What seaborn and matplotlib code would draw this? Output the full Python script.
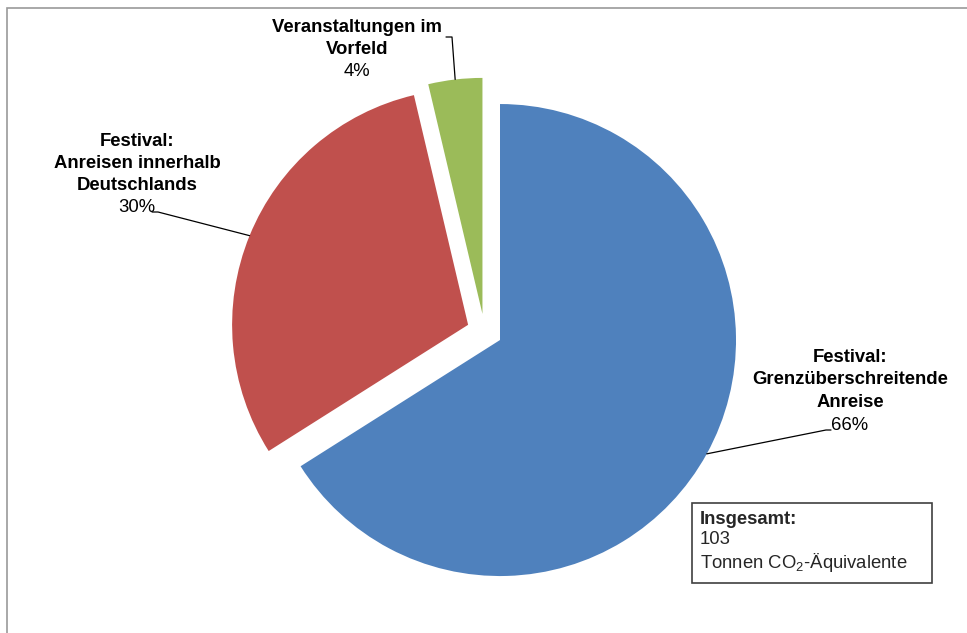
import matplotlib
matplotlib.use("Agg")
import matplotlib.pyplot as plt
from matplotlib.patches import Rectangle
import seaborn as sns
import numpy as np

# data (tonnes CO2-equivalent)
categories = ["Festival:\nGrenzüberschreitende\nAnreise",
              "Festival:\nAnreisen innerhalb\nDeutschlands",
              "Veranstaltungen im\nVorfeld"]
tonnes = [68.0, 31.2, 3.8]
colors = ["#4F81BD", "#C0504D", "#9BBB59"]
total_unit = "Tonnen CO$_2$-Äquivalente"

sns.set_style("white")
plt.rcParams["font.family"] = ["Liberation Sans", "DejaVu Sans"]
plt.rcParams["mathtext.fontset"] = "custom"
plt.rcParams["mathtext.rm"] = "Liberation Sans"

W, H = 967, 633
FS = 13.3
fig = plt.figure(figsize=(W / 100, H / 100), dpi=100)
ax = fig.add_axes([0, 0, 1, 1])

# chart area border (cut at right / bottom)
fig.patches.append(Rectangle((7 / W, -0.1), 1.2, 1 - 8 / H + 0.1, transform=fig.transFigure,
                             fill=False, edgecolor="#9a9a9a", linewidth=1.2))

# explode is in data units here (radius given in pixels)
wedges, _ = ax.pie(tonnes, colors=colors, startangle=-90, counterclock=True,
                   radius=236, center=(484.5, 331.5), explode=[17.7] * 3,
                   wedgeprops=dict(linewidth=0), frame=True)
ax.set_xlim(0, W)
ax.set_ylim(H, 0)
ax.set_axis_off()

# label layout: (center x, first line y, line step) and leader bend/end points
label_pos = [(850, 357, 22.7), (137, 142, 21.8), (357, 28, 22)]
leader_pts = [[(826, 430), (831, 430)], [(158, 212), (152, 212)], [(452, 37), (446, 37)]]

tot = sum(tonnes)
for w, cat, v, (lx, ly, step), pts in zip(wedges, categories, tonnes, label_pos, leader_pts):
    lines = cat.split("\n")
    for i, line in enumerate(lines):
        ax.text(lx, ly + i * step, line, ha="center", va="center",
                fontsize=FS, fontweight="bold", color="black")
    ax.text(lx, ly + len(lines) * step, f"{v / tot * 100:.0f}%", ha="center",
            va="center", fontsize=FS, color="black")
    mid = np.deg2rad((w.theta1 + w.theta2) / 2)
    cx, cy = w.center
    p0 = (cx + w.r * np.cos(mid), cy + w.r * np.sin(mid))
    xs = [p0[0]] + [p[0] for p in pts]
    ys = [p0[1]] + [p[1] for p in pts]
    ax.plot(xs, ys, color="black", linewidth=0.9)

# total box
ax.add_patch(Rectangle((692, 503), 240, 80, fill=False, edgecolor="#404040", linewidth=1.2))
ax.text(700, 519, "Insgesamt:", ha="left", va="center", fontsize=FS, fontweight="bold")
ax.text(700, 540, f"{tot:.0f}", ha="left", va="center", fontsize=FS)
ax.text(700, 563, total_unit, ha="left", va="center", fontsize=FS)

fig.savefig("out.png", dpi=100)
